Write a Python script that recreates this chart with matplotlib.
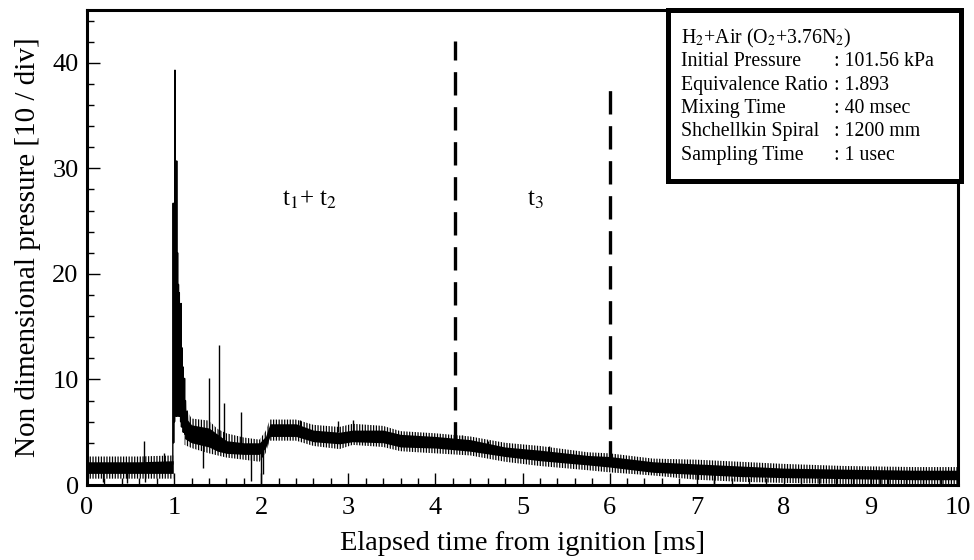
import matplotlib
matplotlib.use("Agg")
import matplotlib.pyplot as plt
from matplotlib.patches import Rectangle

plt.rcParams['font.family'] = ['Liberation Serif', 'DejaVu Serif']
plt.rcParams['mathtext.fontset'] = 'stix'
plt.rcParams['hatch.linewidth'] = 0.9

# ---------------- data ----------------
# pre-ignition noise band (0 - 0.99 ms)
pre_t = [0.0, 0.3, 0.6, 0.99]
pre_core_lo = [1.1, 1.1, 1.1, 1.1]
pre_core_hi = [2.2, 2.2, 2.2, 2.3]
pre_out_lo = [0.6, 0.6, 0.6, 0.6]
pre_out_hi = [2.7, 2.7, 2.7, 2.8]

# detonation burst (~1.0 - 1.15 ms)
peak_t = [0.985, 0.99, 0.995, 1.0, 1.005, 1.01, 1.015, 1.02, 1.025, 1.03,
          1.035, 1.04, 1.045, 1.05, 1.055, 1.06, 1.065, 1.07, 1.075, 1.08,
          1.085, 1.09, 1.095, 1.10, 1.105, 1.11, 1.115, 1.12, 1.125, 1.13,
          1.14, 1.15, 1.16]
peak_p = [2.0, 26.7, 4.0, 20.0, 6.0, 39.3, 8.0, 27.0, 6.5, 30.7,
          9.0, 22.0, 6.5, 19.0, 7.5, 18.2, 6.5, 16.0, 6.0, 17.2,
          5.5, 13.0, 5.5, 11.2, 5.0, 9.0, 5.0, 10.1, 4.8, 8.0,
          5.2, 7.0, 5.0]

# post-ignition noise band (1.12 - 10 ms)
post_t = [1.12, 1.2, 1.4, 1.5, 1.6, 1.8, 1.98, 2.05, 2.1, 2.4, 2.6, 2.9,
          3.05, 3.4, 3.6, 4.0, 4.4, 4.8, 5.2, 5.75, 6.0, 6.5, 7.0, 7.5,
          8.0, 8.7, 9.5, 10.0]
post_core_lo = [4.4, 4.0, 3.6, 3.2, 3.0, 2.9, 2.9, 3.5, 4.6, 4.6, 4.1, 3.9,
                4.1, 4.0, 3.6, 3.5, 3.2, 2.7, 2.3, 1.9, 1.7, 1.2, 1.0, 0.8,
                0.7, 0.6, 0.5, 0.5]
post_core_hi = [6.5, 5.7, 5.4, 4.8, 4.2, 4.0, 4.0, 4.6, 5.8, 5.8, 5.2, 5.0,
                5.2, 5.2, 4.8, 4.6, 4.3, 3.6, 3.3, 2.8, 2.7, 2.2, 2.0, 1.8,
                1.6, 1.5, 1.4, 1.4]
post_out_lo = [3.8, 3.5, 3.0, 2.8, 2.6, 2.4, 2.2, 3.0, 4.2, 4.2, 3.7, 3.4,
               3.8, 3.6, 3.2, 3.0, 2.8, 2.2, 1.8, 1.4, 1.2, 0.9, 0.5, 0.3,
               0.2, 0.1, 0.1, 0.1]
post_out_hi = [7.5, 6.3, 6.1, 5.3, 4.9, 4.5, 4.3, 5.1, 6.2, 6.2, 5.7, 5.5,
               5.8, 5.6, 5.1, 4.9, 4.6, 4.0, 3.7, 3.1, 3.0, 2.5, 2.4, 2.2,
               2.0, 1.8, 1.7, 1.7]

# isolated spikes: time, low, high
spike_t = [0.18, 0.46, 0.67, 0.65, 0.88, 1.33, 1.40, 1.52, 1.57, 1.77,
           1.88, 2.0, 2.02, 2.45, 2.88, 3.05, 4.3, 4.6, 5.3, 7.2, 9.1]
spike_lo = [0.3, 0.2, 0.3, 2.0, 2.0, 1.6, 5.0, 4.5, 4.0, 3.5,
            0.4, 0.0, 1.0, 5.5, 5.0, 5.0, 4.0, 3.5, 2.8, 0.0, 0.0]
spike_hi = [1.4, 1.4, 1.4, 4.2, 3.0, 4.5, 10.1, 13.3, 7.8, 6.9,
            3.2, 3.2, 3.6, 6.2, 6.1, 6.2, 4.7, 4.2, 3.7, 1.0, 1.0]

# dashed phase separators: x, y bottom, y top
sep_x = [4.22, 6.0]
sep_lo = [3.8, 2.0]
sep_hi = [42.1, 38.1]

phase_labels = ["t$_1$+ t$_2$", "t$_3$"]
phase_x = [2.55, 5.15]
phase_y = [27.0, 27.0]

info_labels = ["Initial Pressure", "Equivalence Ratio", "Mixing Time",
               "Shchellkin Spiral", "Sampling Time"]
info_values = ["101.56 kPa", "1.893", "40 msec", "1200 mm", "1 usec"]
info_title = "H$_2$+Air (O$_2$+3.76N$_2$)"

x_ticks = list(range(0, 11))
y_ticks = [0, 10, 20, 30, 40]

# ---------------- figure ----------------
W, H = 974, 560
fig = plt.figure(figsize=(W / 100, H / 100), dpi=100)
ax = fig.add_axes([87 / W, (H - 485) / H, (958 - 87) / W, 475 / H])

k = 'black'
ax.fill_between(pre_t, pre_out_lo, pre_out_hi, facecolor='none', edgecolor=k,
                hatch='||||||', linewidth=0)
ax.fill_between(pre_t, pre_core_lo, pre_core_hi, color=k, linewidth=0)
ax.fill_between(post_t, post_out_lo, post_out_hi, facecolor='none', edgecolor=k,
                hatch='||||||', linewidth=0)
ax.fill_between(post_t, post_core_lo, post_core_hi, color=k, linewidth=0)
ax.plot(peak_t, peak_p, color=k, linewidth=1.0)
ax.vlines(spike_t, spike_lo, spike_hi, color=k, linewidth=1.0)

ax.vlines(sep_x, sep_lo, sep_hi, color=k, linewidth=2.4,
          linestyles=[(0, (7, 3.5))])

for s, x, y in zip(phase_labels, phase_x, phase_y):
    ax.text(x, y, s, fontsize=18, ha='center', va='center')

ax.set_xlim(0, 10)
ax.set_ylim(0, 45)
ax.set_xticks(x_ticks)
ax.set_yticks(y_ticks)
ax.set_xticks([i * 0.2 for i in range(51)], minor=True)
ax.set_yticks(list(range(0, 46, 2)), minor=True)
ax.tick_params(which='both', direction='in', top=False, right=False,
               labelsize=19, width=1.0)
ax.tick_params(axis='x', which='major', pad=9)
ax.tick_params(axis='y', which='major', pad=6)
ax.tick_params(which='major', length=9)
ax.tick_params(which='minor', length=5)
for sp in ax.spines.values():
    sp.set_linewidth(2.2)

ax.set_xlabel("Elapsed time from ignition [ms]", fontsize=20.5, labelpad=8)
ax.set_ylabel("Non dimensional pressure [10 / div]", fontsize=21, labelpad=8)

# info box
bx0, bx1, by0, by1 = 667.5, 960.5, 9.5, 180.5
fig.add_artist(Rectangle((bx0 / W, 1 - by1 / H), (bx1 - bx0) / W, (by1 - by0) / H,
                         transform=fig.transFigure, facecolor='white',
                         edgecolor='black', linewidth=3.6, zorder=5))
fs = 14.3
fig.text(681 / W, 1 - 38 / H, info_title, fontsize=fs, va='center', zorder=6)
for i, (lab, val) in enumerate(zip(info_labels, info_values)):
    y = 1 - (62 + i * 23.3) / H
    fig.text(681 / W, y, lab, fontsize=fs, va='center', zorder=6)
    fig.text(834 / W, y, ": " + val, fontsize=fs, va='center', zorder=6)

fig.savefig("out.png", dpi=100)
